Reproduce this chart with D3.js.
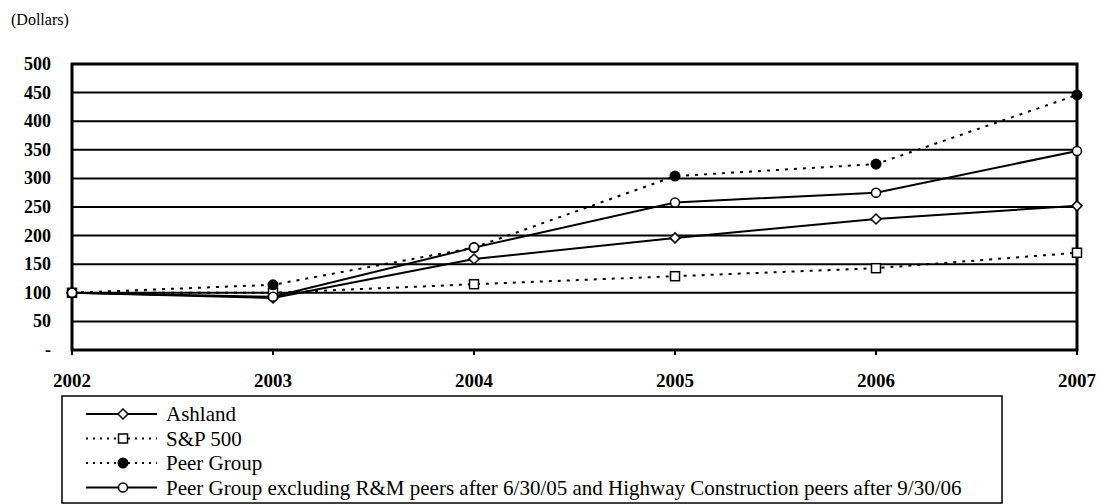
<!DOCTYPE html>
<html>
<head>
<meta charset="utf-8">
<script src="https://cdn.jsdelivr.net/npm/d3@7"></script>
</head>
<body style="margin:0">
<script>
// Valeurs (base 100 en 2002)
const years = [2002, 2003, 2004, 2005, 2006, 2007];
const ashland = [100, 91, 159, 196, 229, 252];
const sp500 = [100, 100, 115, 129, 143, 170];
const peerGroup = [100, 114, 179, 304, 325, 446];
const peerExcl = [100, 93, 179, 258, 275, 348];
const yTicks = [0, 50, 100, 150, 200, 250, 300, 350, 400, 450, 500];
const names = ["Ashland", "S&P 500", "Peer Group",
    "Peer Group excluding R&M peers after 6/30/05 and Highway Construction peers after 9/30/06"];

const series = [
    { name: names[0], values: ashland, dash: null, marker: "diamond" },
    { name: names[1], values: sp500, dash: "3,6", marker: "square" },
    { name: names[2], values: peerGroup, dash: "3,6", marker: "dot" },
    { name: names[3], values: peerExcl, dash: null, marker: "circle" }
];

const W = 1099, H = 504;
const margin = { top: 64, right: 22, bottom: 154, left: 72 };
const width = W - margin.left - margin.right;
const height = H - margin.top - margin.bottom;

const svg = d3.select("body").append("svg")
    .attr("width", W)
    .attr("height", H);

svg.append("text")
    .attr("x", 11).attr("y", 25)
    .attr("font-family", "Liberation Serif").attr("font-size", 16)
    .text("(Dollars)");

const g = svg.append("g").attr("transform", `translate(${margin.left},${margin.top})`);

const x = d3.scaleLinear().domain([2002, 2007]).range([0, width]);
const y = d3.scaleLinear().domain([0, 500]).range([height, 0]);

// grille horizontale
g.selectAll(".grid").data(yTicks.filter(d => d > 0 && d < 500)).join("line")
    .attr("x1", 0).attr("x2", width)
    .attr("y1", d => y(d)).attr("y2", d => y(d))
    .attr("stroke", "#000").attr("stroke-width", 2);

// cadre
g.append("rect")
    .attr("x", 0).attr("y", 0).attr("width", width).attr("height", height)
    .attr("fill", "none").attr("stroke", "#000").attr("stroke-width", 3);

// axe Y
g.selectAll(".ylab").data(yTicks).join("text")
    .attr("x", -21).attr("y", d => y(d) + 6)
    .attr("text-anchor", "end")
    .attr("font-family", "Liberation Serif").attr("font-size", 18).attr("font-weight", "bold")
    .text(d => d === 0 ? "-" : d);

// axe X
g.selectAll(".xtick").data(years).join("line")
    .attr("x1", d => x(d)).attr("x2", d => x(d))
    .attr("y1", height).attr("y2", height + 5)
    .attr("stroke", "#000").attr("stroke-width", 2);

g.selectAll(".xlab").data(years).join("text")
    .attr("x", d => x(d)).attr("y", height + 37)
    .attr("text-anchor", "middle")
    .attr("font-family", "Liberation Serif").attr("font-size", 19).attr("font-weight", "bold")
    .text(d => d);

const line = d3.line().x((d, i) => x(years[i])).y(d => y(d));

function drawMarker(sel, type, cx, cy) {
    if (type === "diamond") {
        sel.append("path")
            .attr("d", `M${cx},${cy - 5}L${cx + 5},${cy}L${cx},${cy + 5}L${cx - 5},${cy}Z`)
            .attr("fill", "#fff").attr("stroke", "#000").attr("stroke-width", 1.5);
    } else if (type === "square") {
        sel.append("rect")
            .attr("x", cx - 4.5).attr("y", cy - 4.5).attr("width", 9).attr("height", 9)
            .attr("fill", "#fff").attr("stroke", "#000").attr("stroke-width", 1.5);
    } else if (type === "dot") {
        sel.append("circle")
            .attr("cx", cx).attr("cy", cy).attr("r", 5.5)
            .attr("fill", "#000");
    } else {
        sel.append("circle")
            .attr("cx", cx).attr("cy", cy).attr("r", 4.5)
            .attr("fill", "#fff").attr("stroke", "#000").attr("stroke-width", 1.5);
    }
}

series.forEach(s => {
    g.append("path")
        .datum(s.values)
        .attr("d", line)
        .attr("fill", "none")
        .attr("stroke", "#000")
        .attr("stroke-width", 2)
        .attr("stroke-dasharray", s.dash);
});
series.forEach(s => {
    s.values.forEach((v, i) => drawMarker(g, s.marker, x(years[i]), y(v)));
});

// légende
const lg = svg.append("g");
lg.append("rect")
    .attr("x", 62).attr("y", 396).attr("width", 940).attr("height", 107)
    .attr("fill", "none").attr("stroke", "#000").attr("stroke-width", 1.5);

series.forEach((s, i) => {
    const ly = 414 + i * 24.5;
    lg.append("line")
        .attr("x1", 86).attr("x2", 157).attr("y1", ly).attr("y2", ly)
        .attr("stroke", "#000").attr("stroke-width", 1.8)
        .attr("stroke-dasharray", s.dash ? "2,5" : null);
    drawMarker(lg, s.marker, 123, ly);
    lg.append("text")
        .attr("x", 166).attr("y", ly + 7)
        .attr("font-family", "Liberation Serif").attr("font-size", 21)
        .text(s.name);
});
</script>
</body>
</html>
